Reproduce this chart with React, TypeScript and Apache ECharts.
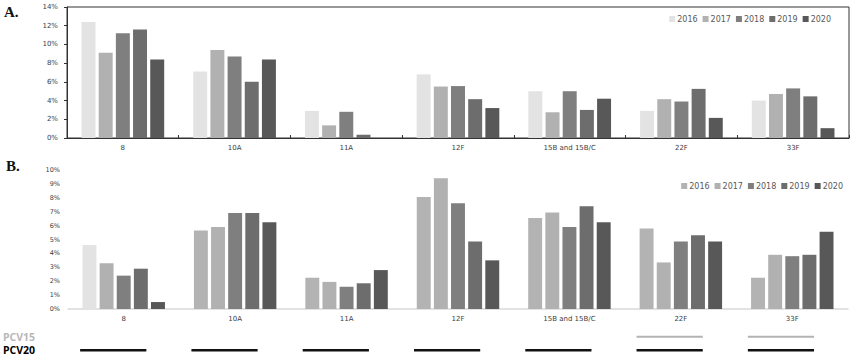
import React, { useEffect, useRef } from "react";
import * as echarts from "echarts";

const categories = ["8", "10A", "11A", "12F", "15B and 15B/C", "22F", "33F"];
const years = ["2016", "2017", "2018", "2019", "2020"];

// Panel A values (%)
const a2016 = [12.4, 7.1, 2.9, 6.8, 5.0, 2.9, 4.0];
const a2017 = [9.1, 9.4, 1.35, 5.5, 2.75, 4.15, 4.7];
const a2018 = [11.2, 8.7, 2.8, 5.55, 5.0, 3.9, 5.3];
const a2019 = [11.6, 6.0, 0.35, 4.15, 3.0, 5.25, 4.45];
const a2020 = [8.4, 8.4, 0, 3.2, 4.2, 2.15, 1.05];

// Panel B values (%)
const b2016 = [4.6, 5.65, 2.25, 8.05, 6.55, 5.8, 2.25];
const b2017 = [3.3, 5.9, 1.95, 9.4, 6.95, 3.35, 3.9];
const b2018 = [2.4, 6.9, 1.6, 7.6, 5.9, 4.85, 3.8];
const b2019 = [2.9, 6.9, 1.85, 4.85, 7.4, 5.3, 3.9];
const b2020 = [0.5, 6.25, 2.8, 3.5, 6.25, 4.85, 5.55];

const aTicks = [0, 2, 4, 6, 8, 10, 12, 14];
const bTicks = [0, 1, 2, 3, 4, 5, 6, 7, 8, 9, 10];

const vaccines = ["PCV20", "PCV15"];
const pcv15Cats = ["22F", "33F"];
const pcv20Cats = ["8", "10A", "11A", "12F", "15B and 15B/C", "22F", "33F"];

const colorsA = ["#e3e3e3", "#b1b1b1", "#7f7f7f", "#6d6d6d", "#585858"];
const colorsB = ["#b3b3b3", "#b1b1b1", "#7f7f7f", "#6d6d6d", "#585858"];
const lightFirst = "#e3e3e3";

const FONT = "DejaVu Sans";

export default function App() {
  const ref = useRef<HTMLDivElement>(null);
  useEffect(() => {
    if (!ref.current) return;
    const chart = echarts.init(ref.current, undefined, { renderer: "svg" });
    const aData = [a2016, a2017, a2018, a2019, a2020];
    const bData = [b2016, b2017, b2018, b2019, b2020];

    const seriesA = years.map((y, i) => ({
      name: y,
      type: "bar",
      xAxisIndex: 0,
      yAxisIndex: 0,
      data: aData[i],
      itemStyle: { color: colorsA[i] },
      barCategoryGap: "26%",
      barGap: "23%",
    }));
    const seriesB = years.map((y, i) => ({
      name: y,
      type: "bar",
      xAxisIndex: 1,
      yAxisIndex: 1,
      data: bData[i].map((v, j) =>
        i === 0 && j === 0 ? { value: v, itemStyle: { color: lightFirst } } : v
      ),
      itemStyle: { color: colorsB[i] },
      barCategoryGap: "26%",
      barGap: "23%",
    }));

    const lineData: any[] = [];
    pcv15Cats.forEach((c) => lineData.push([categories.indexOf(c), 1]));
    pcv20Cats.forEach((c) => lineData.push([categories.indexOf(c), 0]));

    const legendText = { fontSize: 8, color: "#595959", fontFamily: FONT, padding: [0, 0, 0, -3] };

    const option: any = {
      animation: false,
      textStyle: { fontFamily: FONT },
      graphic: [
        { type: "text", left: 4, top: 4, style: { text: "A.", font: "bold 15px 'Liberation Serif'", fill: "#111" } },
        { type: "text", left: 6, top: 158, style: { text: "B.", font: "bold 15px 'Liberation Serif'", fill: "#111" } },
      ],
      legend: [
        {
          data: years.map((y, i) => ({ name: y, itemStyle: { color: colorsA[i] } })),
          right: 16,
          top: 10,
          itemWidth: 6,
          itemHeight: 6,
          itemGap: 5,
          icon: "rect",
          textStyle: legendText,
          selectedMode: false,
        },
        {
          data: years.map((y, i) => ({ name: y, itemStyle: { color: colorsB[i] } })),
          right: 4,
          top: 177,
          itemWidth: 6,
          itemHeight: 6,
          itemGap: 5,
          icon: "rect",
          textStyle: legendText,
          selectedMode: false,
        },
      ],
      grid: [
        { left: 67, top: 7, width: 782, height: 131, show: true, borderColor: "#333", borderWidth: 1, backgroundColor: "transparent" },
        { left: 68, top: 170, width: 780, height: 139 },
        { left: 68, top: 330, width: 780, height: 28 },
      ],
      xAxis: [
        {
          gridIndex: 0,
          type: "category",
          data: categories,
          axisLine: { lineStyle: { color: "#333", width: 1 } },
          axisTick: { show: true, inside: true, length: 3, lineStyle: { color: "#333" } },
          axisLabel: { fontSize: 7, color: "#404040", margin: 6, fontFamily: FONT, interval: 0 },
        },
        {
          gridIndex: 1,
          type: "category",
          data: categories,
          axisLine: { lineStyle: { color: "#d9d9d9", width: 1.5 } },
          axisTick: { show: false },
          axisLabel: { fontSize: 7, color: "#404040", margin: 6, fontFamily: FONT, interval: 0 },
        },
        {
          gridIndex: 2,
          type: "category",
          data: categories,
          show: false,
        },
      ],
      yAxis: [
        {
          gridIndex: 0,
          type: "value",
          min: aTicks[0],
          max: aTicks[aTicks.length - 1],
          interval: 2,
          splitLine: { show: false },
          axisLine: { show: true, lineStyle: { color: "#333" } },
          axisTick: { show: true, length: 3, lineStyle: { color: "#333" } },
          axisLabel: { formatter: "{value}%", fontSize: 7, color: "#404040", margin: 9, fontFamily: FONT },
        },
        {
          gridIndex: 1,
          type: "value",
          min: bTicks[0],
          max: bTicks[bTicks.length - 1],
          interval: 1,
          splitLine: { show: false },
          axisLine: { show: false },
          axisTick: { show: false },
          axisLabel: { formatter: "{value}%", fontSize: 6.5, color: "#404040", margin: 8, fontFamily: FONT },
        },
        {
          gridIndex: 2,
          type: "category",
          data: vaccines,
          axisLine: { show: false },
          axisTick: { show: false },
          axisLabel: {
            interval: 0,
            align: "left",
            margin: 66,
            fontSize: 10.5,
            fontWeight: "bold",
            fontFamily: "Open Sans",
            color: (v: string) => (v === "PCV15" ? "#b8b8b8" : "#000"),
          },
        },
      ],
      series: [
        ...seriesA,
        ...seriesB,
        {
          type: "custom",
          xAxisIndex: 2,
          yAxisIndex: 2,
          data: lineData,
          renderItem: (params: any, api: any) => {
            const p = api.coord([api.value(0), api.value(1)]);
            const band = api.size([1, 0])[0];
            const isPcv15 = api.value(1) === 1;
            return {
              type: "line",
              shape: { x1: p[0] - band * 0.4, y1: p[1], x2: p[0] + band * 0.195, y2: p[1] },
              style: { stroke: isPcv15 ? "#b3b3b3" : "#111", lineWidth: isPcv15 ? 2 : 2.5 },
            };
          },
        },
      ],
    };
    chart.setOption(option);
    return () => chart.dispose();
  }, []);
  return <div ref={ref} style={{ width: 852, height: 357, position: "absolute", left: 0, top: 0 }} />;
}
